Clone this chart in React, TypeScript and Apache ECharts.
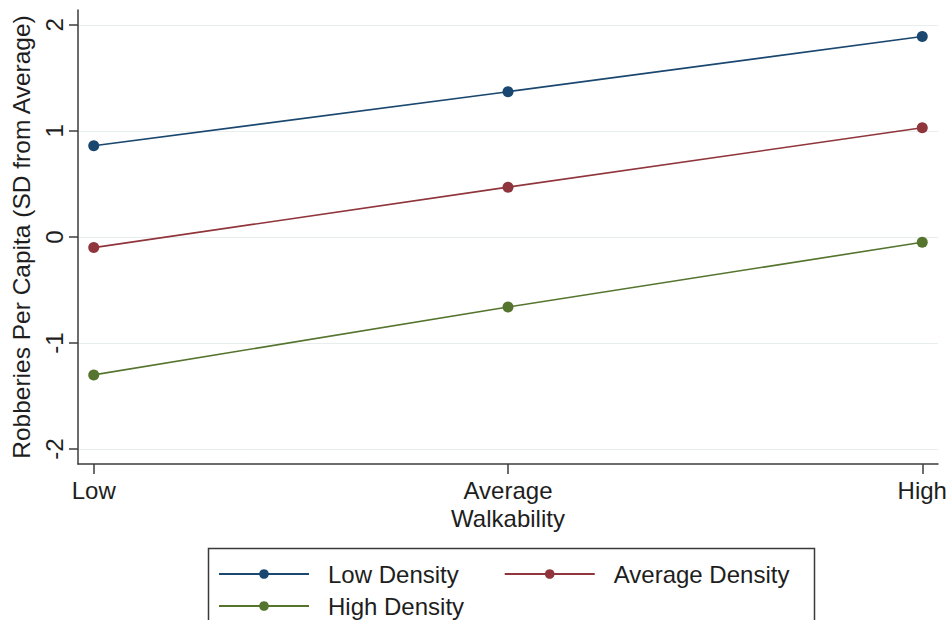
import React, { useEffect, useRef } from "react";
import * as echarts from "echarts";

const categories = ["Low", "Average", "High"];
const xPositions = [0, 1, 2];
const yTicks = [-2, -1, 0, 1, 2];
const seriesNames = ["Low Density", "Average Density", "High Density"];
const lowDensity = [0.86, 1.37, 1.89];
const averageDensity = [-0.1, 0.47, 1.03];
const highDensity = [-1.3, -0.66, -0.05];
const seriesColors = ["#1a476f", "#90353b", "#55752f"];

const FONT = "'Liberation Sans', Arial, sans-serif";
const TEXT = "#1e1e1e";
const AXIS = "#3c3c3c";

export default function App() {
  const ref = useRef<HTMLDivElement>(null);
  useEffect(() => {
    if (!ref.current) return;
    const chart = echarts.init(ref.current, null, { renderer: "svg" });
    const values = [lowDensity, averageDensity, highDensity];
    const series = seriesNames.map((name, i) => ({
      name,
      type: "line",
      data: xPositions.map((x, j) => [x, values[i][j]]),
      symbol: "circle",
      symbolSize: 11,
      showSymbol: true,
      itemStyle: { color: seriesColors[i] },
      lineStyle: { color: seriesColors[i], width: 1.6 },
      emphasis: { disabled: true },
    }));
    const legendCommon = {
      orient: "horizontal",
      itemWidth: 90,
      itemHeight: 12,
      padding: 0,
      selectedMode: false,
      textStyle: { fontSize: 24, color: TEXT, fontFamily: FONT, padding: [0, 0, 0, 14] },
    };
    chart.setOption({
      animation: false,
      backgroundColor: "#ffffff",
      textStyle: { fontFamily: FONT },
      grid: { left: 78, right: 12, top: 10, bottom: 156, containLabel: false },
      xAxis: {
        type: "value",
        min: -0.038,
        max: 2.038,
        axisLine: { show: true, onZero: false, lineStyle: { color: AXIS, width: 1.5 } },
        axisTick: { show: true, length: 10, customValues: xPositions, lineStyle: { color: AXIS, width: 1.5 } },
        axisLabel: {
          customValues: xPositions,
          formatter: (v: number) => categories[Math.round(v)] ?? "",
          fontSize: 24,
          color: TEXT,
          fontFamily: FONT,
          margin: 14,
        },
        splitLine: { show: false },
        name: "Walkability",
        nameLocation: "middle",
        nameGap: 41,
        nameTextStyle: { fontSize: 24, color: TEXT, fontFamily: FONT },
      },
      yAxis: {
        type: "value",
        min: -2.14,
        max: 2.14,
        axisLine: { show: true, onZero: false, lineStyle: { color: AXIS, width: 1.5 } },
        axisTick: { show: true, length: 9, customValues: yTicks, lineStyle: { color: AXIS, width: 1.5 } },
        axisLabel: {
          customValues: yTicks,
          rotate: 90,
          fontSize: 24,
          color: TEXT,
          fontFamily: FONT,
          margin: 12,
        },
        splitLine: { show: true, lineStyle: { color: "#e8eded", width: 1.2 } },
        name: "Robberies Per Capita (SD from Average)",
        nameLocation: "middle",
        nameGap: 38,
        nameRotate: 90,
        nameTextStyle: { fontSize: 24.5, color: TEXT, fontFamily: FONT },
      },
      legend: [
        { ...legendCommon, left: 218, top: 562, itemGap: 45, data: [seriesNames[0], seriesNames[1]] },
        { ...legendCommon, left: 218, top: 594, itemGap: 45, data: [seriesNames[2]] },
      ],
      graphic: [
        {
          type: "rect",
          left: 206,
          top: 546,
          shape: { width: 606, height: 120 },
          style: { fill: "none", stroke: "#3a3a3a", lineWidth: 1.5 },
          silent: true,
        },
      ],
      series,
    });
    return () => chart.dispose();
  }, []);
  return (
    <div
      ref={ref}
      style={{ position: "fixed", left: 0, top: 0, width: 950, height: 620, background: "#fff" }}
    />
  );
}
